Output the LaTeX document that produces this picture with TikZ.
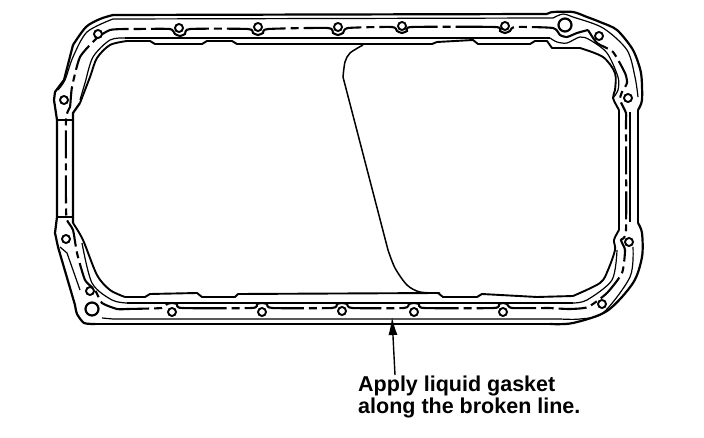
\documentclass[tikz,border=0pt]{standalone}
\usepackage{fontspec}
\setmainfont{Liberation Sans}
\usetikzlibrary{arrows.meta,calc,positioning}
\tikzset{
        outline/.style = {draw, line width=2.2pt, line join=round},
        flange/.style = {draw, line width=1.2pt, line join=round},
        cavity/.style = {draw, line width=1.9pt, line join=round},
        bead/.style = {draw, line width=2.1pt, dash pattern=on 8pt off 5pt on 64pt off 5pt},
        beadside/.style = {draw, line width=2.1pt, dash pattern=on 28pt off 5pt on 7pt off 5pt},
        hole/.style = {draw, circle, fill=white, line width=1.9pt, inner sep=0pt, minimum size=8pt},
        bighole/.style = {hole, line width=2.2pt, minimum size=13pt},
        arrow/.style = {draw, -{Latex[length=18pt,width=9pt]}, line width=1.4pt},
        note/.style = {align=left, anchor=north west, font=\fontsize{21.5}{21.5}\selectfont\bfseries, inner sep=0pt},
    }

\begin{document}
\begin{tikzpicture}[x=1pt,y=-1pt]
    \useasboundingbox (0,0) rectangle (704,438);

    % pan rim
    \draw[outline] plot[smooth,tension=0.45] coordinates {(547,14) (553,12) (573,12) (587,17) (600,22) (617,30) (633,50) (641,73) (642,100) (638,110)};
    \draw[outline] (638,110) -- (638,223);
    \draw[outline] plot[smooth,tension=0.5] coordinates {(638,223) (642,233) (642,257) (633,283) (607,311) (573,323) (550,324)};
    \draw[outline] (550,324) -- (95,324);
    \draw[outline] plot[smooth,tension=0.4] coordinates {(95,324) (84,323) (77,314) (75,305)};
    \draw[outline] (75,305) -- (58,247) -- (55,233) -- (57,217) -- (57,120) -- (54,100) -- (55,92) -- (64,80) -- (73,45);
    \draw[outline] plot[smooth,tension=0.5] coordinates {(73,45) (86,27) (100,19) (113,15)};
    \draw[outline] (113,15) -- (547,14);

    % flange lines
    \draw[flange] plot[smooth,tension=0.5] coordinates {(58,90) (65,80) (73,57) (87,32) (113,19)};
    \draw[flange] (113,19) -- (553,18);
    \draw[flange] plot[smooth,tension=0.5] coordinates {(553,18) (563,14) (573,17) (603,28) (627,50) (635,77) (638,97)};
    \draw[flange] plot[smooth,tension=0.5] coordinates {(80,100) (85,83) (93,57) (110,40) (125,38)};
    \draw[flange] (125,38) -- (550,38);
    \draw[flange] plot[smooth,tension=0.5] coordinates {(550,38) (557,42) (567,43) (580,37) (590,40) (607,53) (618,77) (618,90) (613,98)};
    \draw[flange] (630,112) -- (630,222);
    \draw[flange] plot[smooth,tension=0.5] coordinates {(633,247) (630,277) (603,313) (580,319) (560,319)};
    \draw[flange] (560,319) -- (113,319) -- (102,318);
    \draw[flange] plot[smooth,tension=0.5] coordinates {(573,303) (587,300) (612,280) (617,250)};
    \draw[flange] (573,303) -- (127,303);
    \draw[flange] plot[smooth,tension=0.5] coordinates {(127,303) (112,300) (92,283) (82,243)};
    \draw[flange] (60,247) -- (67,253) -- (80,290);

    % oil pan opening
    \draw[cavity] plot[smooth,tension=0.5] coordinates {(80,103) (90,77) (97,58) (110,45) (127,41)};
    \draw[cavity] (127,41) -- (150,41) -- (155,44) -- (202,44) -- (207,41) -- (232,41) -- (237,44) -- (432,44) -- (437,42) -- (473,40) -- (478,44) -- (530,44) -- (535,41) -- (547,41) -- (552,48) -- (580,48);
    \draw[cavity] plot[smooth,tension=0.5] coordinates {(580,48) (603,57) (615,73) (615,90) (613,98) (619,110)};
    \draw[cavity, line width=2.2pt] (619,110) -- (619,230);
    \draw[cavity] plot[smooth,tension=0.5] coordinates {(619,230) (614,240) (615,250) (608,270) (600,283) (573,296)};
    \draw[cavity] (573,296) -- (537,297) -- (482,294) -- (477,297) -- (443,297) -- (438,293) -- (238,294) -- (235,297) -- (202,297) -- (197,293) -- (150,294) -- (145,297) -- (125,297);
    \draw[cavity] plot[smooth,tension=0.5] coordinates {(125,297) (110,290) (97,275) (83,240) (73,223)};
    \draw[outline] (73,223) -- (73,113) -- (80,103);
    \draw[cavity] (57,120) -- (73,120);
    \draw[cavity] (57,217) -- (73,217);

    % baffle
    \draw[flange, line width=1.5pt] plot[smooth,tension=0.5] coordinates {(363,45) (350,53) (345,62) (343,77)};
    \draw[flange, line width=1.5pt] (343,77) -- (388,250);
    \draw[flange, line width=1.5pt] plot[smooth,tension=0.5] coordinates {(388,250) (395,268) (407,285) (420,292) (440,293)};

    % gasket line
    \draw[bead] plot[smooth,tension=0.35] coordinates {(138,29) (170,29) (175,34) (180,36) (185,34) (190,29) (248,29) (253,33) (258,35) (263,33) (268,29) (328,28) (333,33) (338,35) (343,33) (348,28) (392,27) (397,31) (402,33) (407,31) (412,27) (495,27) (500,31) (505,33) (510,31) (515,27) (553,28) (560,35) (567,37) (577,33) (588,30)};
    \draw[beadside] plot[smooth,tension=0.35] coordinates {(588,30) (597,43) (613,52) (625,73) (627,83) (622,92) (620,100) (626,113) (626,125) (626,230) (621,240) (625,250) (622,273) (607,293) (588,307) (570,309) (549,308)};
    \draw[bead] plot[smooth,tension=0.35] coordinates {(549,308) (512,308) (507,304) (503,303) (499,304) (494,308) (424,308) (419,304) (414,303) (409,304) (404,308) (352,308) (347,304) (342,303) (337,304) (332,308) (272,308) (267,304) (262,303) (257,304) (252,308) (182,308) (177,304) (172,303) (167,304) (162,308) (127,309)};
    \draw[beadside] plot[smooth,tension=0.35] coordinates {(127,309) (117,309) (102,303) (95,290) (85,280) (77,253) (73,230) (67,220) (66,205) (66,120) (70,107) (72,87) (80,57) (97,38) (110,30) (125,29) (138,29)};

    % bolt holes
    \foreach \name/\xpos/\ypos in {a/98/34, b/179/28, c/258/27, d/338/27, e/402/26, f/505/26, g/599/36, h/628/98, i/629/242, j/602/304, k/503/312, l/414/312, m/342/311, n/262/312, o/172/312, p/90/291, q/66/239, r/64/100}
        \node[hole] (hole\name) at (\xpos,\ypos) {};
    \node[bighole] (boltne) at (565,25) {};
    \node[bighole] (boltsw) at (92,309) {};

    % callout
    \node[note] (notetext) at (358,376) {Apply liquid gasket\\along the broken line.};
    \coordinate (tail) at (395,375);
    \coordinate (tip) at (392,317);
    \draw[arrow] (tail) -- (tip);
\end{tikzpicture}
\end{document}
